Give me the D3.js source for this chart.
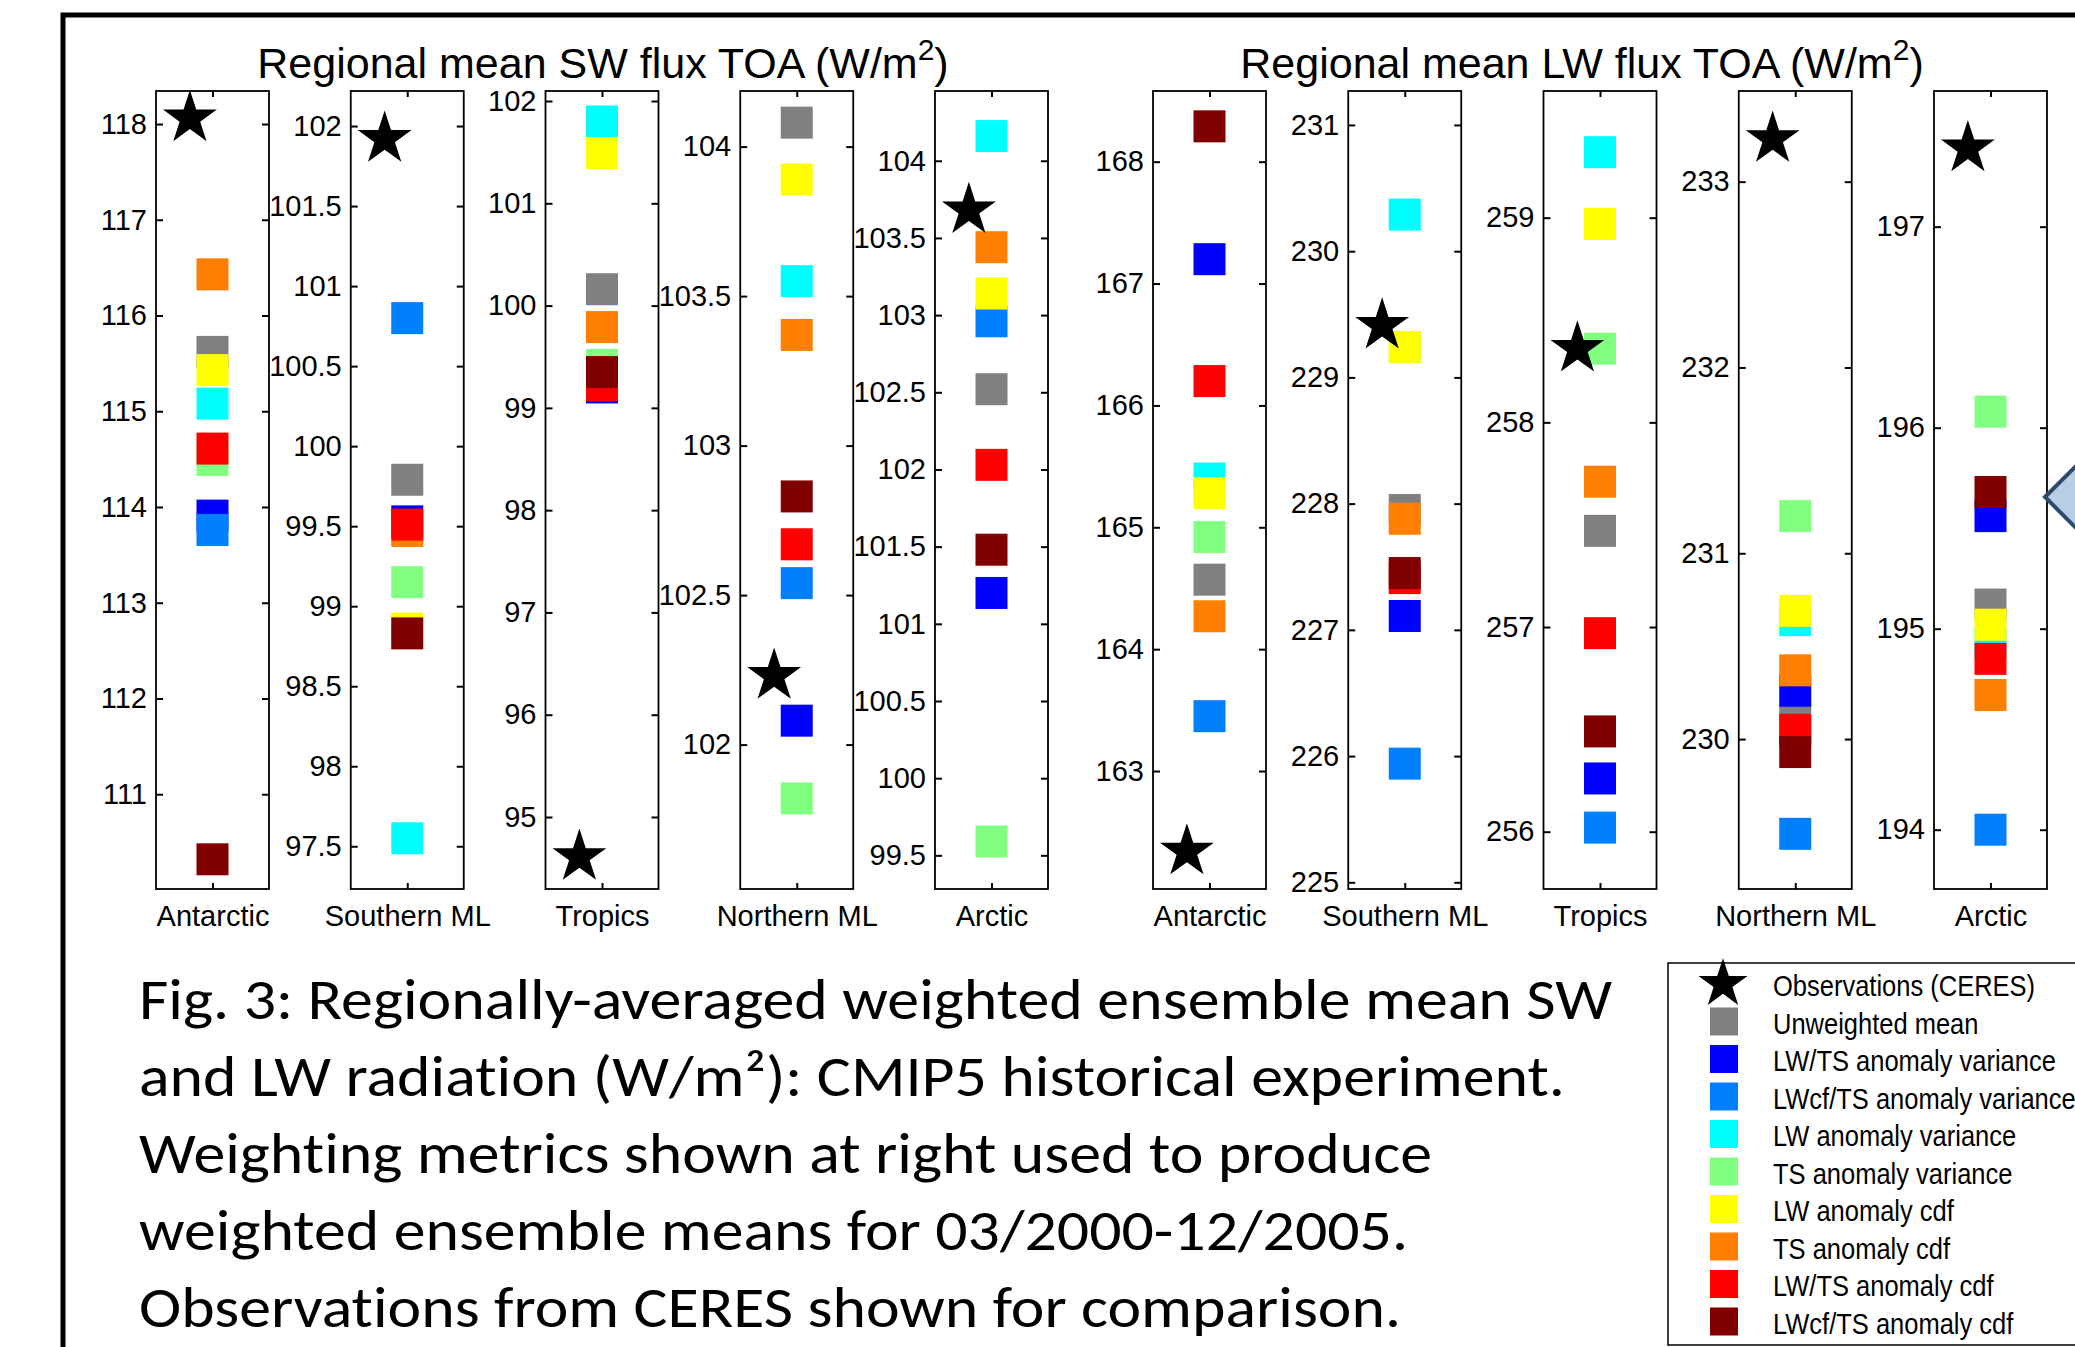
<!DOCTYPE html>
<html>
<head>
<meta charset="utf-8">
<script src="https://cdn.jsdelivr.net/npm/d3@7"></script>
<style>
  body { margin: 0; background: #fff; }
  svg { display: block; }
</style>
</head>
<body>
<svg id="chart" width="2075" height="1347"></svg>
<script>
// regions, left to right in each group
var regions = ["Antarctic", "Southern ML", "Tropics", "Northern ML", "Arctic"];

// legend entries (drawing order of the squares)
var seriesNames = ["Unweighted mean", "LW/TS anomaly variance", "LWcf/TS anomaly variance",
  "LW anomaly variance", "TS anomaly variance", "LW anomaly cdf", "TS anomaly cdf",
  "LW/TS anomaly cdf", "LWcf/TS anomaly cdf"];
var seriesColors = ["#808080", "#0000ff", "#0080ff", "#00ffff", "#80ff80",
  "#ffff00", "#ff8000", "#ff0000", "#800000"];

// CERES observations
var obsSW = [118.06, 101.92, 94.61, 102.23, 103.68];
var obsLW = [162.34, 229.41, 258.36, 233.23, 197.39];

// SW flux, one value per region
var swUnweighted = [115.62, 99.79, 100.16, 104.08, 102.52];
var swLwTsVar    = [113.91, 99.53, 99.20, 102.08, 101.20];
var swLwcfTsVar  = [113.76, 100.80, 99.30, 102.54, 102.96];
var swLwVar      = [115.08, 97.55, 101.80, 103.55, 104.16];
var swTsVar      = [114.49, 99.15, 99.42, 101.82, 99.59];
var swLwCdf      = [115.43, 98.86, 101.49, 103.89, 103.14];
var swTsCdf      = [116.43, 99.47, 99.79, 103.37, 103.44];
var swLwTsCdf    = [114.61, 99.51, 99.22, 102.67, 102.03];
var swLwcfTsCdf  = [110.32, 98.83, 99.35, 102.83, 101.48];

// LW flux, one value per region
var lwUnweighted = [164.57, 227.95, 257.47, 230.10, 195.12];
var lwLwTsVar    = [167.20, 227.11, 256.26, 230.26, 195.56];
var lwLwcfTsVar  = [163.45, 225.94, 256.02, 229.49, 194.00];
var lwLwVar      = [165.40, 230.29, 259.32, 230.64, 194.93];
var lwTsVar      = [164.92, 229.24, 258.36, 231.20, 196.08];
var lwLwCdf      = [165.28, 229.24, 258.97, 230.69, 195.02];
var lwTsCdf      = [164.27, 227.88, 257.71, 230.37, 194.67];
var lwLwTsCdf    = [166.20, 227.41, 256.97, 230.05, 194.85];
var lwLwcfTsCdf  = [168.29, 227.45, 256.49, 229.93, 195.68];

// axis limits and tick labels per panel
var swLimits = [[110.01, 118.345], [97.233, 102.219], [94.296, 102.098], [101.517, 104.186], [99.282, 104.452]];
var lwLimits = [[162.032, 168.58], [224.947, 231.269], [255.72, 259.619], [229.193, 233.488], [193.705, 197.675]];
var swTicks = [
  [111, 112, 113, 114, 115, 116, 117, 118],
  [97.5, 98, 98.5, 99, 99.5, 100, 100.5, 101, 101.5, 102],
  [95, 96, 97, 98, 99, 100, 101, 102],
  [102, 102.5, 103, 103.5, 104],
  [99.5, 100, 100.5, 101, 101.5, 102, 102.5, 103, 103.5, 104]
];
var lwTicks = [
  [163, 164, 165, 166, 167, 168],
  [225, 226, 227, 228, 229, 230, 231],
  [256, 257, 258, 259],
  [230, 231, 232, 233],
  [194, 195, 196, 197]
];

var captionLines = [
  "Fig. 3: Regionally-averaged weighted ensemble mean SW",
  "and LW radiation (W/m\u00b2): CMIP5 historical experiment.",
  "Weighting metrics shown at right used to produce",
  "weighted ensemble means for 03/2000-12/2005.",
  "Observations from CERES shown for comparison."
];

var swSeries = [swUnweighted, swLwTsVar, swLwcfTsVar, swLwVar, swTsVar, swLwCdf, swTsCdf, swLwTsCdf, swLwcfTsCdf];
var lwSeries = [lwUnweighted, lwLwTsVar, lwLwcfTsVar, lwLwVar, lwTsVar, lwLwCdf, lwTsCdf, lwLwTsCdf, lwLwcfTsCdf];

var svg = d3.select("#chart");
var axisFont = "'Liberation Sans', Arial, sans-serif";

//outer frame, runs off the right and bottom edge
svg.append("rect")
  .attr("x", 63).attr("y", 15)
  .attr("width", 2200).attr("height", 1500)
  .attr("fill", "none").attr("stroke", "#000").attr("stroke-width", 5);

var panelTop = 91, panelBottom = 889, panelWidth = 113;
var sq = 32;
var star = d3.symbol().type(d3.symbolStar).size(900);

function drawPanel(left, limits, ticks, obs, series, idx) {
  var y = d3.scaleLinear().domain(limits).range([panelBottom, panelTop]);
  var x = d3.scaleLinear().domain([0.5, 1.5]).range([left, left + panelWidth]);
  var g = svg.append("g");

  g.append("rect")
    .attr("x", left).attr("y", panelTop)
    .attr("width", panelWidth).attr("height", panelBottom - panelTop)
    .attr("fill", "none").attr("stroke", "#000").attr("stroke-width", 1.8);

  var fmt = d3.format("~f");
  var la = g.append("g").attr("transform", "translate(" + left + ",0)")
    .call(d3.axisLeft(y).tickValues(ticks).tickFormat(fmt).tickSizeInner(-7).tickSizeOuter(0).tickPadding(9));
  var ra = g.append("g").attr("transform", "translate(" + (left + panelWidth) + ",0)")
    .call(d3.axisRight(y).tickValues(ticks).tickFormat("").tickSizeInner(-7).tickSizeOuter(0));
  var ta = g.append("g").attr("transform", "translate(0," + panelTop + ")")
    .call(d3.axisTop(x).tickValues([1]).tickFormat("").tickSizeInner(-6).tickSizeOuter(0));
  var ba = g.append("g").attr("transform", "translate(0," + panelBottom + ")")
    .call(d3.axisBottom(x).tickValues([1]).tickFormat(function() { return regions[idx]; })
      .tickSizeInner(-6).tickSizeOuter(0).tickPadding(16));
  [la, ra, ta, ba].forEach(function(a) {
    a.select(".domain").remove();
    a.selectAll("line").attr("stroke-width", 2);
    a.selectAll("text").attr("font-size", 29).attr("font-family", axisFont).attr("fill", "#000");
  });

  //squares in legend order, later ones on top
  series.forEach(function(vals, s) {
    g.append("rect")
      .attr("x", x(1) - sq / 2).attr("y", y(vals[idx]) - sq / 2)
      .attr("width", sq).attr("height", sq)
      .attr("fill", seriesColors[s]);
  });

  g.append("path")
    .attr("d", star)
    .attr("transform", "translate(" + x(0.8) + "," + y(obs[idx]) + ")")
    .attr("fill", "#000");
}

var swLeft = d3.scaleLinear().domain([0, 4]).range([156, 935]);
var lwLeft = d3.scaleLinear().domain([0, 4]).range([1153, 1934]);
regions.forEach(function(r, i) {
  drawPanel(swLeft(i), swLimits[i], swTicks[i], obsSW, swSeries, i);
  drawPanel(lwLeft(i), lwLimits[i], lwTicks[i], obsLW, lwSeries, i);
});

//group titles
function title(cx, label) {
  var t = svg.append("text")
    .attr("x", cx).attr("y", 78)
    .attr("text-anchor", "middle")
    .attr("font-family", axisFont).attr("font-size", 43);
  t.append("tspan").text("Regional mean " + label + " flux TOA (W/m");
  t.append("tspan").attr("font-size", 30).attr("dy", -18).text("2");
  t.append("tspan").attr("dy", 18).text(")");
}
title(603, "SW");
title(1582, "LW");

//caption
var capWidths = [1473, 1426, 1293, 1269, 1262];
captionLines.forEach(function(line, i) {
  svg.append("text")
    .attr("x", 139).attr("y", 1019 + i * 77)
    .attr("font-family", "Calibri, Carlito, Lato, sans-serif")
    .attr("font-size", 58)
    .style("font-variant-ligatures", "none")
    .attr("textLength", capWidths[i])
    .attr("lengthAdjust", "spacingAndGlyphs")
    .text(line);
});

//legend
var lg = svg.append("g");
lg.append("rect")
  .attr("x", 1668).attr("y", 963)
  .attr("width", 600).attr("height", 382)
  .attr("fill", "#fff").attr("stroke", "#000").attr("stroke-width", 1.5);
var legY = function(k) { return 984 + 37.5 * k; };
lg.append("path")
  .attr("d", d3.symbol().type(d3.symbolStar).size(750))
  .attr("transform", "translate(1723," + legY(0) + ")")
  .attr("fill", "#000");
seriesColors.forEach(function(c, s) {
  lg.append("rect")
    .attr("x", 1710).attr("y", legY(s + 1) - 14)
    .attr("width", 28).attr("height", 28)
    .attr("fill", c);
});
["Observations (CERES)"].concat(seriesNames).forEach(function(name, k) {
  lg.append("text")
    .attr("transform", "translate(1773," + (legY(k) + 12) + ") scale(0.85,1)")
    .attr("font-family", axisFont).attr("font-size", 30)
    .text(name);
});

//cut-off arrow shape at the right edge
svg.append("polygon")
  .attr("points", "2045,497 2112,430 2112,564")
  .attr("fill", "#b9cde5").attr("stroke", "#2e4a6e").attr("stroke-width", 4);
</script>
</body>
</html>
